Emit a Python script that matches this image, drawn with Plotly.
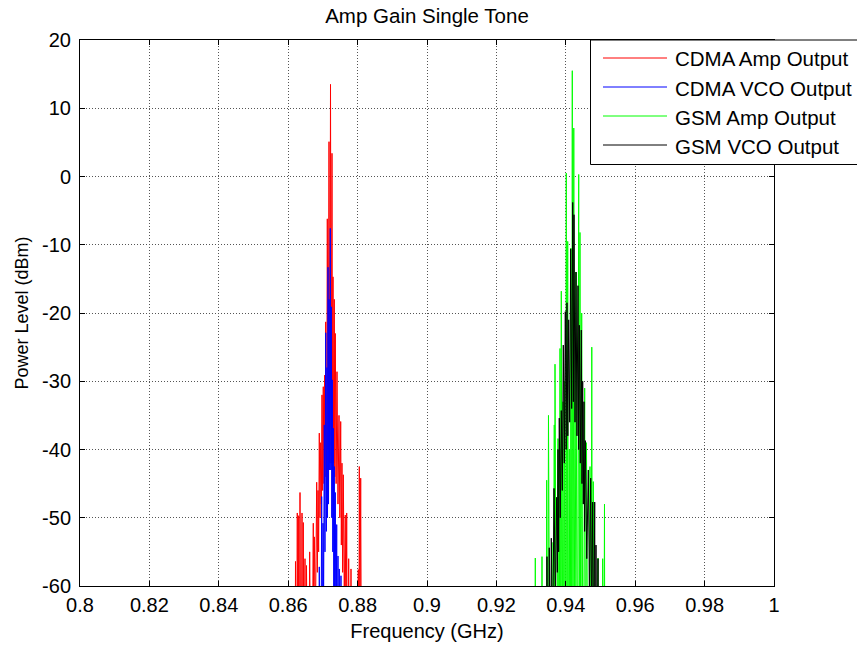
import plotly.graph_objects as go

# ---------------- data ----------------
freq_red = [
    0.86195, 0.86210, 0.86236, 0.86262, 0.86282, 0.86302, 0.86321, 0.86340, 0.86369, 0.86398,
    0.86416, 0.86435, 0.86460, 0.86484, 0.86505, 0.86527, 0.86573, 0.86619, 0.86671, 0.86723,
    0.86737, 0.86752, 0.86786, 0.86821, 0.86840, 0.86859, 0.86877, 0.86896, 0.86916, 0.86937,
    0.86955, 0.86974, 0.86992, 0.87011, 0.87031, 0.87052, 0.87066, 0.87081, 0.87104, 0.87127,
    0.87151, 0.87176, 0.87197, 0.87219, 0.87240, 0.87262, 0.87276, 0.87291, 0.87310, 0.87328,
    0.87342, 0.87357, 0.87381, 0.87406, 0.87435, 0.87464, 0.87488, 0.87513, 0.87531, 0.87550,
    0.87569, 0.87588, 0.87616, 0.87645, 0.87665, 0.87686, 0.87714, 0.87743, 0.87776, 0.87810,
    0.87830, 0.88005, 0.88020, 0.88034, 0.88049, 0.88069, 0.88089, 0.88098, 0.88107, 0.88120]
level_red = [
    -90, -56.4, -90, -49.3, -90, -49.7, -90, -46.3, -90, -49.3,
    -90, -50.7, -90, -56.0, -90, -57.0, -90, -55.0, -90, -50.8,
    -70, -52.8, -65, -44.8, -58, -46.0, -55, -37.6, -50, -39.0,
    -48, -32.0, -46, -30.8, -45, -29.1, -44, -21.3, -50, -6.2,
    -40, 5.1, -42, 13.5, -42, 3.4, -40, -14.7, -42, -18.0,
    -44, -23.0, -45, -28.6, -48, -35.0, -50, -35.9, -54, -42.0,
    -58, -43.7, -62, -49.6, -70, -49.3, -90, -56.0, -90, -57.5,
    -90, -90, -57.6, -90, -42.5, -70, -44.2, -90, -57.2, -90]

freq_blue = [
    0.86880, 0.86896, 0.86930, 0.86965, 0.86984, 0.87003, 0.87021, 0.87040, 0.87060, 0.87081,
    0.87100, 0.87118, 0.87133, 0.87147, 0.87162, 0.87176, 0.87195, 0.87213, 0.87228, 0.87242,
    0.87256, 0.87271, 0.87285, 0.87300, 0.87314, 0.87328, 0.87342, 0.87357, 0.87378, 0.87398,
    0.87416, 0.87435, 0.87453, 0.87472, 0.87496, 0.87521, 0.87540]
level_blue = [
    -90, -57.2, -90, -46.9, -70, -50.8, -62, -36.4, -55, -22.9,
    -52, -28.0, -50, -13.3, -48, -18.0, -43, -7.6, -43, -19.1,
    -50, -29.8, -55, -36.9, -60, -42.5, -66, -46.3, -72, -51.0,
    -90, -55.6, -90, -57.5, -90, -58.5, -90]

freq_green = [
    0.93105, 0.93121, 0.93140, 0.93300, 0.93314, 0.93330, 0.93435, 0.93449, 0.93475, 0.93501,
    0.93550, 0.93602, 0.93635, 0.93668, 0.93679, 0.93689, 0.93732, 0.93775, 0.93804, 0.93833,
    0.93851, 0.93870, 0.93894, 0.93919, 0.93940, 0.93962, 0.93988, 0.94014, 0.94035, 0.94055,
    0.94078, 0.94101, 0.94125, 0.94150, 0.94168, 0.94187, 0.94208, 0.94230, 0.94262, 0.94294,
    0.94333, 0.94372, 0.94390, 0.94409, 0.94433, 0.94458, 0.94501, 0.94544, 0.94570, 0.94596,
    0.94646, 0.94697, 0.94723, 0.94749, 0.94770, 0.94792, 0.94860, 0.94928, 0.94945, 0.95050,
    0.95063, 0.95089, 0.95115, 0.95130]
level_green = [
    -90, -55.9, -90, -90, -55.7, -90, -90, -44.5, -90, -35.0,
    -90, -53.6, -90, -36.4, -90, -27.5, -90, -38.4, -90, -25.2,
    -90, -16.8, -90, -33.0, -90, -30.0, -90, 0.5, -90, -9.5,
    -90, -40.0, -90, -10.5, -90, 15.5, -90, 7.1, -90, -14.0,
    -90, 0.3, -90, -8.2, -90, -20.0, -90, -31.0, -90, -39.0,
    -90, -42.5, -90, -25.0, -90, -44.7, -90, -55.9, -90, -90,
    -56.0, -90, -48.0, -90]

freq_black = [
    0.93440, 0.93458, 0.93490, 0.93524, 0.93553, 0.93582, 0.93620, 0.93660, 0.93700, 0.93737,
    0.93756, 0.93775, 0.93794, 0.93812, 0.93841, 0.93870, 0.93899, 0.93928, 0.93957, 0.93986,
    0.94010, 0.94034, 0.94058, 0.94083, 0.94112, 0.94141, 0.94170, 0.94199, 0.94218, 0.94236,
    0.94265, 0.94294, 0.94322, 0.94351, 0.94370, 0.94389, 0.94418, 0.94447, 0.94467, 0.94487,
    0.94505, 0.94524, 0.94543, 0.94562, 0.94605, 0.94649, 0.94683, 0.94717, 0.94746, 0.94775,
    0.94804, 0.94833, 0.94851, 0.94870, 0.94899, 0.94928, 0.94945]
level_black = [
    -90, -55.7, -90, -54.4, -80, -53.0, -70, -45.7, -62, -47.0,
    -58, -40.0, -55, -35.4, -50, -34.3, -46, -24.7, -42, -19.8,
    -40, -18.5, -38, -21.0, -36, -10.6, -34, -3.8, -33, -5.6,
    -36, -14.0, -38, -16.0, -40, -21.8, -42, -22.5, -45, -30.0,
    -48, -33.0, -52, -38.7, -56, -43.0, -62, -44.2, -66, -47.7,
    -72, -47.7, -80, -54.0, -90, -56.0, -90]

series_names = ["CDMA Amp Output", "CDMA VCO Output", "GSM Amp Output", "GSM VCO Output"]
series_colors = ["#ff0000", "#0000ff", "#00ff00", "#000000"]

x_tickvals = [0.8, 0.82, 0.84, 0.86, 0.88, 0.9, 0.92, 0.94, 0.96, 0.98, 1.0]
x_ticktext = ["0.8", "0.82", "0.84", "0.86", "0.88", "0.9", "0.92", "0.94", "0.96", "0.98", "1"]
y_tickvals = [-60, -50, -40, -30, -20, -10, 0, 10, 20]
y_ticktext = ["-60", "-50", "-40", "-30", "-20", "-10", "0", "10", "20"]

# ---------------- figure ----------------
W, H = 857, 645
L, R, T, B = 80, 83, 40, 59
FONT = "Liberation Sans, Arial, Helvetica, sans-serif"

fig = go.Figure()
for fx, ly, name, col in zip([freq_red, freq_blue, freq_green, freq_black],
                             [level_red, level_blue, level_green, level_black],
                             series_names, series_colors):
    fig.add_trace(go.Scatter(x=fx, y=ly, mode="lines", name=name,
                             line=dict(color=col, width=1), showlegend=False))


def pxx(px):
    return (px - L) / (W - L - R)


def pxy(py):
    return (H - B - py) / (H - T - B)


axis_common = dict(showline=True, linecolor="black", linewidth=1, mirror="allticks",
                   ticks="inside", ticklen=5, tickcolor="black", tickwidth=1,
                   showgrid=True, gridcolor="#555555", gridwidth=1, griddash="1px,2px",
                   zeroline=False, automargin=False,
                   tickfont=dict(family=FONT, size=20, color="black"))

fig.update_layout(
    width=W, height=H,
    margin=dict(l=L, r=R, t=T, b=B, pad=0, autoexpand=False),
    paper_bgcolor="white", plot_bgcolor="white",
    font=dict(family=FONT, color="black"),
    title=dict(text="Amp Gain Single Tone", x=0.5, xref="paper", xanchor="center",
               y=1 - 16 / H, yref="container", yanchor="middle",
               font=dict(family=FONT, size=20.5, color="black")),
    xaxis=dict(range=[0.8, 1.0], tickvals=x_tickvals, ticktext=x_ticktext,
               title=dict(text="Frequency (GHz)", font=dict(family=FONT, size=20), standoff=8),
               ticklabelstandoff=1, **axis_common),
    yaxis=dict(range=[-60, 20], tickvals=y_tickvals, ticktext=y_ticktext,
               title=dict(text="Power Level (dBm)", font=dict(family=FONT, size=18), standoff=8),
               ticklabelstandoff=4, **axis_common),
)

# legend box (drawn manually, MATLAB style)
shapes = [dict(type="rect", xref="paper", yref="paper", x0=pxx(590.5), x1=pxx(870),
               y0=pxy(164.5), y1=pxy(40), fillcolor="white",
               line=dict(color="black", width=1), layer="above")]
annotations = []
rows = [58, 87, 116, 145]
for ry, name, col in zip(rows, series_names, series_colors):
    shapes.append(dict(type="line", xref="paper", yref="paper", x0=pxx(603), x1=pxx(667),
                       y0=pxy(ry), y1=pxy(ry), line=dict(color=col, width=1), layer="above"))
    annotations.append(dict(text=name, xref="paper", yref="paper", x=pxx(673), y=pxy(ry + 1),
                            xanchor="left", yanchor="middle", showarrow=False,
                            font=dict(family=FONT, size=20.5, color="black")))
fig.update_layout(shapes=shapes, annotations=annotations)

fig.write_html("out.html")
